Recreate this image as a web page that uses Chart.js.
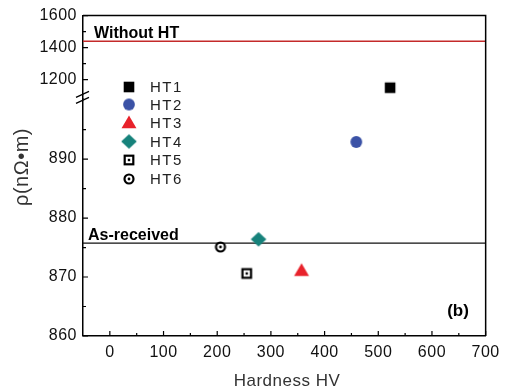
<!DOCTYPE html>
<html><head><meta charset="utf-8">
<script src="https://cdn.jsdelivr.net/npm/chart.js@4/dist/chart.umd.min.js"></script>
<style>html,body{margin:0;padding:0;background:#fff}#wrap{width:506px;height:390px}</style>
</head><body><div id="wrap"><canvas id="c" width="506" height="390"></canvas></div>
<script>
// ---- data ----
const seriesNames = ['HT1', 'HT2', 'HT3', 'HT4', 'HT5', 'HT6'];
const hardness = [522, 459, 357, 277, 255, 206];
const resistivity = [1150, 892.9, 870.9, 876.4, 870.6, 875.1];
const xTicks = [0, 100, 200, 300, 400, 500, 600, 700];
const yLowerTicks = [860, 870, 880, 890];
const yUpperTicks = [1200, 1400, 1600];
const xRange = [-50, 700];
const yLowerRange = [860, 900.3];
const yUpperRange = [1084, 1600];
const withoutHT = 1440;
const asReceived = 875.75;
const refLabels = ['Without HT', 'As-received'];
const panelLabel = '(b)';
const xTitle = 'Hardness HV';
const yTitle = 'ρ(nΩ•m)';

// ---- styles ----
const markerTypes = ['square', 'circle', 'triangle', 'diamond', 'openSquare', 'openCircle'];
const markerColors = ['#000000', '#3b52a6', '#e8222b', '#16827b', '#000000', '#000000'];

function makeMarker(type, color) {
  const c = document.createElement('canvas');
  c.width = 20; c.height = 20;
  const g = c.getContext('2d');
  const cx = 10, cy = 10;
  g.fillStyle = color; g.strokeStyle = color;
  if (type === 'square') {
    g.fillRect(cx - 5.3, cy - 5.3, 10.6, 10.6);
  } else if (type === 'circle') {
    g.beginPath(); g.arc(cx, cy, 5.9, 0, Math.PI * 2); g.fill();
  } else if (type === 'triangle') {
    const r = 8.6;
    g.beginPath();
    g.moveTo(cx, cy - r);
    g.lineTo(cx + r * 0.866, cy + r * 0.5);
    g.lineTo(cx - r * 0.866, cy + r * 0.5);
    g.closePath(); g.fill();
  } else if (type === 'diamond') {
    g.beginPath();
    g.moveTo(cx, cy - 7.3); g.lineTo(cx + 7.8, cy); g.lineTo(cx, cy + 7.3); g.lineTo(cx - 7.8, cy);
    g.closePath(); g.fill();
  } else if (type === 'openSquare') {
    g.lineWidth = 2.2;
    g.strokeRect(cx - 4.3, cy - 4.3, 8.6, 8.6);
    g.fillRect(cx - 1.2, cy - 1.2, 2.4, 2.4);
  } else if (type === 'openCircle') {
    g.lineWidth = 2.2;
    g.beginPath(); g.arc(cx, cy, 4.5, 0, Math.PI * 2); g.stroke();
    g.beginPath(); g.arc(cx, cy, 1.4, 0, Math.PI * 2); g.fill();
  }
  return c;
}
const markerImgs = markerTypes.map((t, i) => makeMarker(t, markerColors[i]));

const pointDatasets = seriesNames.map((name, i) => ({
  type: 'scatter',
  label: name,
  data: [{ x: hardness[i], y: resistivity[i] }],
  yAxisID: resistivity[i] > yLowerRange[1] ? 'yUpper' : 'y',
  pointStyle: markerImgs[i],
  pointRadius: 6,
  backgroundColor: markerColors[i],
  borderColor: markerColors[i]
}));

const lineDatasets = [
  { type: 'line', label: refLabels[0], yAxisID: 'yUpper',
    data: [{ x: xRange[0], y: withoutHT }, { x: xRange[1], y: withoutHT }],
    borderColor: '#c42a2a', borderWidth: 1.3, pointRadius: 0, fill: false },
  { type: 'line', label: refLabels[1], yAxisID: 'y',
    data: [{ x: xRange[0], y: asReceived }, { x: xRange[1], y: asReceived }],
    borderColor: '#111111', borderWidth: 1.3, pointRadius: 0, fill: false }
];

const FONT = 'Liberation Sans, Arial, sans-serif';

const decor = {
  id: 'decor',
  beforeDraw(chart) {
    chart.ctx.letterSpacing = '0.5px';
  },
  afterDraw(chart) {
    const ctx = chart.ctx;
    const { left, right, top, bottom } = chart.chartArea;
    const sx = chart.scales.x, sy = chart.scales.y, su = chart.scales.yUpper;
    ctx.save();
    ctx.strokeStyle = '#000'; ctx.lineWidth = 1.5;
    // frame top and right
    ctx.beginPath();
    ctx.moveTo(left, top); ctx.lineTo(right, top); ctx.lineTo(right, bottom);
    ctx.stroke();
    // inward ticks
    ctx.lineWidth = 1.2;
    ctx.beginPath();
    xTicks.forEach(v => { const p = sx.getPixelForValue(v); ctx.moveTo(p, bottom); ctx.lineTo(p, bottom - 5); });
    for (let v = xTicks[0] - 50; v < xTicks[xTicks.length - 1]; v += 100) {
      if (v <= xRange[0]) continue;
      const p = sx.getPixelForValue(v); ctx.moveTo(p, bottom); ctx.lineTo(p, bottom - 3);
    }
    yLowerTicks.forEach(v => { const p = sy.getPixelForValue(v); ctx.moveTo(left, p); ctx.lineTo(left + 5, p); });
    yLowerTicks.forEach(v => { const p = sy.getPixelForValue(v + 5); ctx.moveTo(left, p); ctx.lineTo(left + 3, p); });
    yUpperTicks.forEach(v => { const p = su.getPixelForValue(v); ctx.moveTo(left, p); ctx.lineTo(left + 5, p); });
    yUpperTicks.slice(0, -1).forEach(v => { const p = su.getPixelForValue(v + 100); ctx.moveTo(left, p); ctx.lineTo(left + 3, p); });
    ctx.stroke();
    // break marks
    const by = sy.top;
    ctx.lineWidth = 1.3;
    ctx.beginPath();
    ctx.moveTo(left - 7, by - 1); ctx.lineTo(left + 6, by - 7);
    ctx.moveTo(left - 7, by + 5); ctx.lineTo(left + 6, by - 1);
    ctx.stroke();

    ctx.letterSpacing = '0px';
    // reference labels
    ctx.fillStyle = '#000';
    ctx.font = 'bold 16px ' + FONT;
    ctx.textAlign = 'left'; ctx.textBaseline = 'alphabetic';
    ctx.fillText(refLabels[0], left + 11, su.getPixelForValue(withoutHT) - 3);
    ctx.fillText(refLabels[1], left + 5, sy.getPixelForValue(asReceived) - 3);
    ctx.font = 'bold 17px ' + FONT;
    ctx.textAlign = 'center'; ctx.textBaseline = 'middle';
    ctx.fillText(panelLabel, 458, 311);

    // legend
    ctx.letterSpacing = '1.5px';
    ctx.font = '15px ' + FONT;
    ctx.fillStyle = '#222';
    ctx.textAlign = 'left'; ctx.textBaseline = 'middle';
    const legY = [87, 104.5, 122.5, 141.5, 160, 179];
    const legMarkY = [87, 104.5, 124, 141.5, 160, 179];
    seriesNames.forEach((n, i) => {
      const img = markerImgs[i];
      ctx.drawImage(img, 129 - img.width / 2, legMarkY[i] - img.height / 2);
      ctx.fillText(n, 150, legY[i] + 1);
    });

    // axis titles
    ctx.letterSpacing = '0.5px';
    ctx.fillStyle = '#333';
    ctx.font = '17px ' + FONT;
    ctx.textAlign = 'center'; ctx.textBaseline = 'middle';
    ctx.fillText(xTitle, 287, 381);
    ctx.save();
    ctx.translate(22, 167);
    ctx.rotate(-Math.PI / 2);
    ctx.font = '20px ' + FONT;
    ctx.fillText(yTitle, 0, 0);
    ctx.restore();
    ctx.restore();
  }
};

const tickFont = { family: FONT, size: 16 };
const fixTicks = arr => scale => { scale.ticks = arr.map(v => ({ value: v })); };
const plainNum = v => String(v);

new Chart(document.getElementById('c'), {
  data: { datasets: [...pointDatasets, ...lineDatasets] },
  options: {
    responsive: false,
    animation: false,
    devicePixelRatio: 1,
    layout: { padding: { top: 15, right: 14, left: 0, bottom: 0 } },
    plugins: { legend: { display: false }, tooltip: { enabled: false } },
    scales: {
      x: {
        type: 'linear', position: 'bottom',
        min: xRange[0], max: xRange[1],
        afterBuildTicks: fixTicks(xTicks),
        afterFit: s => { s.height = 54; },
        grid: { display: false, drawTicks: false },
        border: { display: true, color: '#000', width: 1.5 },
        ticks: { font: tickFont, color: '#111', padding: 7, autoSkip: false, maxRotation: 0, callback: plainNum }
      },
      y: {
        type: 'linear', position: 'left', stack: 'left', stackWeight: 238.5,
        min: yLowerRange[0], max: yLowerRange[1],
        afterBuildTicks: fixTicks(yLowerTicks),
        afterFit: s => { s.width = 83; },
        grid: { display: false, drawTicks: false },
        border: { display: true, color: '#000', width: 1.5 },
        ticks: { font: tickFont, color: '#111', padding: 6, autoSkip: false, callback: plainNum }
      },
      yUpper: {
        type: 'linear', position: 'left', stack: 'left', stackWeight: 83,
        min: yUpperRange[0], max: yUpperRange[1],
        afterBuildTicks: fixTicks(yUpperTicks),
        afterFit: s => { s.width = 83; },
        grid: { display: false, drawTicks: false },
        border: { display: true, color: '#000', width: 1.5 },
        ticks: { font: tickFont, color: '#111', padding: 6, autoSkip: false, callback: plainNum }
      }
    }
  },
  plugins: [decor]
});
</script>
</body></html>
